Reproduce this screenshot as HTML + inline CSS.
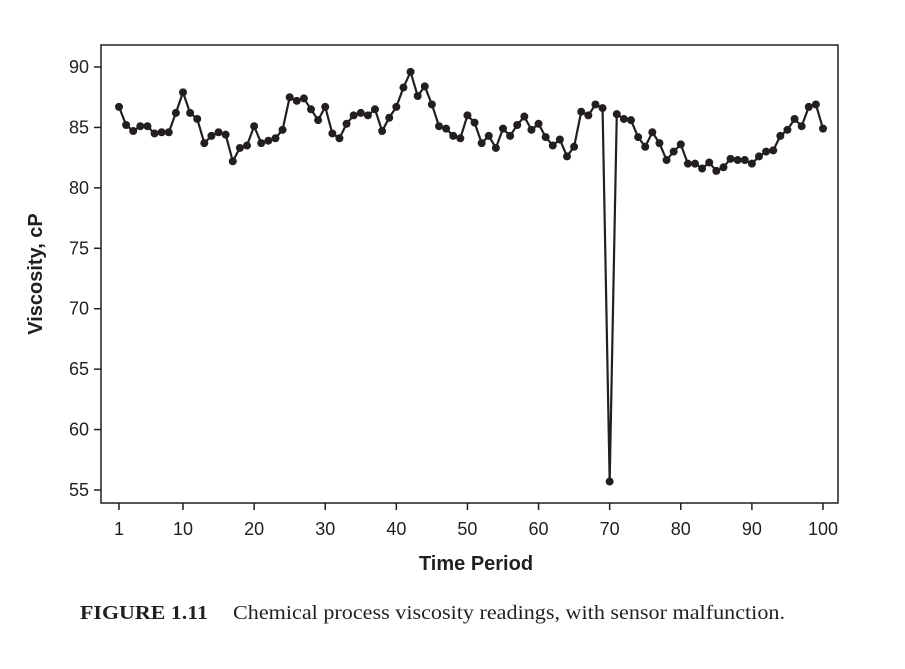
<!DOCTYPE html>
<html><head><meta charset="utf-8"><style>
body{margin:0;background:#fff;width:905px;height:664px;overflow:hidden}
svg text{font-family:"Liberation Sans",sans-serif;fill:#231f20}
</style></head><body>
<svg width="905" height="664">
<g id="plot"></g>
<text x="-274" y="42" transform="rotate(-90)" text-anchor="middle" font-size="20" font-weight="bold">Viscosity, cP</text>
<text x="476" y="570" text-anchor="middle" font-size="20" font-weight="bold">Time Period</text>
<text x="80" y="619" style="font-family:'Liberation Serif',serif" font-size="20" font-weight="bold" textLength="128" lengthAdjust="spacingAndGlyphs">FIGURE 1.11</text>
<text x="233" y="619" style="font-family:'Liberation Serif',serif" font-size="20" textLength="552" lengthAdjust="spacingAndGlyphs">Chemical process viscosity readings, with sensor malfunction.</text>
</svg>
<script>
const values=[86.7,85.2,84.7,85.1,85.1,84.5,84.6,84.6,86.2,87.9,86.2,85.7,83.7,84.3,84.6,84.4,82.2,83.3,83.5,85.1,83.7,83.9,84.1,84.8,87.5,87.2,87.4,86.5,85.6,86.7,84.5,84.1,85.3,86.0,86.2,86.0,86.5,84.7,85.8,86.7,88.3,89.6,87.6,88.4,86.9,85.1,84.9,84.3,84.1,86.0,85.4,83.7,84.3,83.3,84.9,84.3,85.2,85.9,84.8,85.3,84.2,83.5,84.0,82.6,83.4,86.3,86.0,86.9,86.6,55.7,86.1,85.7,85.6,84.2,83.4,84.6,83.7,82.3,83.0,83.6,82.0,82.0,81.6,82.1,81.4,81.7,82.4,82.3,82.3,82.0,82.6,83.0,83.1,84.3,84.8,85.7,85.1,86.7,86.9,84.9];
const xTicks=[1,10,20,30,40,50,60,70,80,90,100];
const yTicks=[55,60,65,70,75,80,85,90];
const X=t=>119+(t-1)*(823-119)/99;
const Y=v=>67+(90-v)*(490-67)/35;
const NS='http://www.w3.org/2000/svg';
const g=document.getElementById('plot');
function mk(tag,attrs){const e=document.createElementNS(NS,tag);for(const k in attrs)e.setAttribute(k,attrs[k]);g.appendChild(e);return e;}
const frame=mk('rect',{x:101,y:45,width:737,height:458,fill:'none',stroke:'#231f20','stroke-width':1.5});


xTicks.forEach(t=>{
 const l=mk('line',{x1:X(t),x2:X(t),y1:503,y2:510,stroke:'#231f20','stroke-width':1.5});
 
 
 const tx=mk('text',{x:X(t),y:535,'text-anchor':'middle','font-size':18});tx.textContent=t;
 
 
});
yTicks.forEach(v=>{
 const l=mk('line',{x1:94,x2:101,y1:Y(v),y2:Y(v),stroke:'#231f20','stroke-width':1.5});
 
 
 const tx=mk('text',{x:89,y:Y(v)+6,'text-anchor':'end','font-size':18});tx.textContent=v;
 
 
});
const line=mk('polyline',{points:values.map((v,i)=>X(i+1)+','+Y(v)).join(' '),fill:'none',stroke:'#231f20','stroke-width':2.2,'stroke-linejoin':'round'});


values.forEach((v,i)=>{
 const c=mk('circle',{cx:X(i+1),cy:Y(v),r:4,fill:'#231f20'});
 
 
});
</script>
</body></html>
